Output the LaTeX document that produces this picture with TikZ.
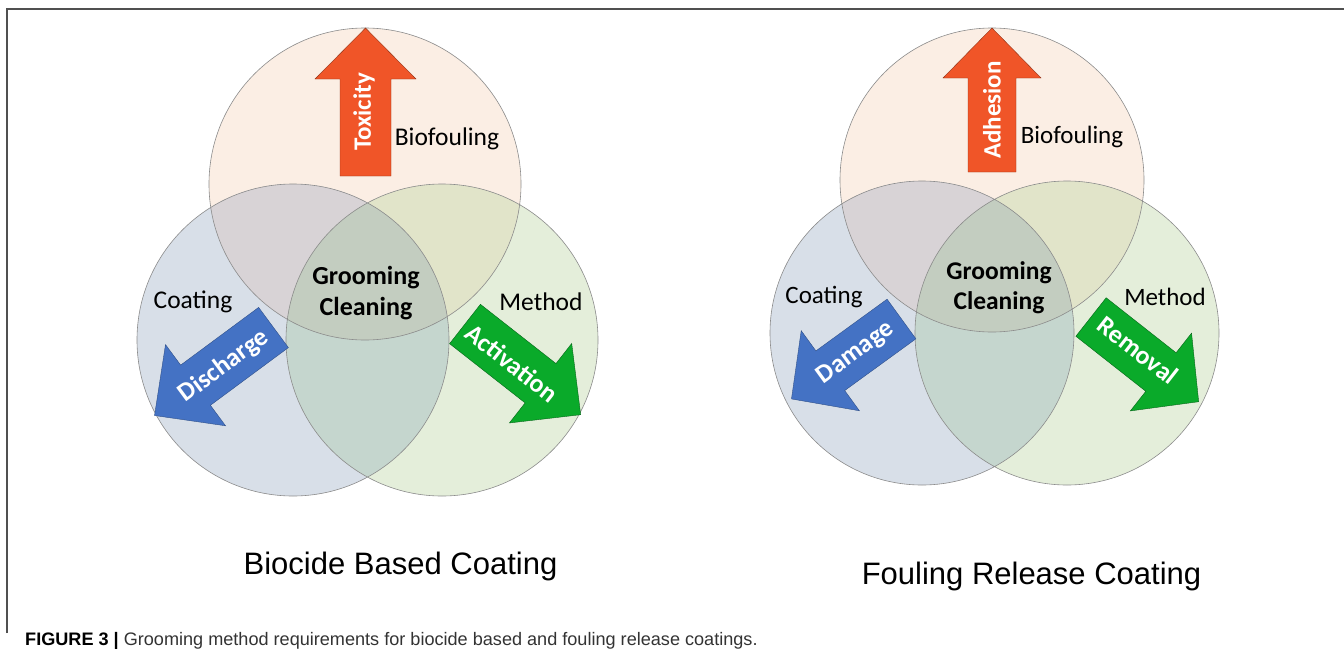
\documentclass[tikz,border=0pt]{standalone}
\usepackage{fontspec}
\setmainfont{Carlito}
\newfontfamily\arialfont{Liberation Sans}
\definecolor{topc}{HTML}{FBEEE4}
\definecolor{leftc}{HTML}{D8DFE8}
\definecolor{rightc}{HTML}{E4EEDA}
\definecolor{tlc}{HTML}{D8D3D6}
\definecolor{trc}{HTML}{E1E4C9}
\definecolor{lrc}{HTML}{C5D6CE}
\definecolor{cc}{HTML}{C3CDC0}
\definecolor{arrred}{HTML}{F05528}
\definecolor{arrblue}{HTML}{4472C4}
\definecolor{arrgreen}{HTML}{0AAA2A}
\definecolor{framec}{HTML}{505050}
\newcommand\VennSet[4]{%
  \fill[topc] (#1) circle[radius=#4pt];
  \fill[leftc] (#2) circle[radius=#4pt];
  \fill[rightc] (#3) circle[radius=#4pt];
  \begin{scope}
    \clip (#1) circle[radius=#4pt];
    \fill[tlc] (#2) circle[radius=#4pt];
    \fill[trc] (#3) circle[radius=#4pt];
  \end{scope}
  \begin{scope}
    \clip (#2) circle[radius=#4pt];
    \fill[lrc] (#3) circle[radius=#4pt];
    \clip (#3) circle[radius=#4pt];
    \fill[cc] (#1) circle[radius=#4pt];
  \end{scope}
  \draw[vennline] (#1) circle[radius=#4pt] (#2) circle[radius=#4pt] (#3) circle[radius=#4pt];
}
\tikzset{
  pics/fatarrow/.style n args={4}{code={
    \path[pic actions] (0,-#3) -- ({#1-#2},-#3) -- ({#1-#2},-#4) -- (#1,0)
      -- ({#1-#2},#4) -- ({#1-#2},#3) -- (0,#3) -- cycle;
  }},
  vennline/.style={draw=black!45, line width=0.6pt},
  lbl/.style={font=\fontsize{25.5}{30}\selectfont, inner sep=0pt},
  lblr/.style={font=\fontsize{25}{30}\selectfont, inner sep=0pt},
  ctr/.style={font=\bfseries\fontsize{26}{31}\selectfont, align=center, inner sep=0pt},
  ctrr/.style={font=\bfseries\fontsize{25.5}{30}\selectfont, align=center, inner sep=0pt},
  arrtxt/.style={font=\bfseries\fontsize{25}{30}\selectfont, text=white, inner sep=0pt},
  arrtxtd/.style={font=\bfseries\fontsize{26}{30}\selectfont, text=white, inner sep=0pt},
  redarr/.style={fill=arrred, draw=arrred!60!black, line width=0.4pt},
  bluearr/.style={fill=arrblue, draw=arrblue!70!black, line width=0.4pt},
  greenarr/.style={fill=arrgreen, draw=arrgreen!60!black, line width=0.4pt},
  titletxt/.style={font=\arialfont\fontsize{31}{37}\selectfont, inner sep=0pt, anchor=base},
}
\begin{document}
\begin{tikzpicture}[x=1pt, y=-1pt]
\useasboundingbox (0,0) rectangle (1344,656);
\fill[white] (0,0) rectangle (1344,656);
% frame
\draw[framec, line width=1.5pt] (7,633) -- (7,9) -- (1344,9);

% ---------- left Venn ----------
\coordinate (LT) at (365,184);
\coordinate (LL) at (293,340);
\coordinate (LR) at (442,340);
\VennSet{LT}{LL}{LR}{156}
\pic[redarr, rotate=90] at (365.5,176) {fatarrow={148}{51}{25.5}{50.5}};
\pic[bluearr, rotate=216.5] at (273.5,327.5) {fatarrow={148}{51}{25}{50.5}};
\pic[greenarr, rotate=-38.1] at (465,324) {fatarrow={147}{51}{25}{50.5}};
\node[arrtxt, rotate=90] (tox) at (364,112) {Toxicity};
\node[arrtxtd, rotate=36.5] (dis) at (224,366) {Discharge};
\node[arrtxtd, rotate=-38] (act) at (512,363) {Activation};
\node[lbl] (bio1) at (447,139) {Biofouling};
\node[lbl] (coat1) at (193,302) {Coating};
\node[lbl] (meth1) at (541,302) {Method};
\node[ctr] (gc1) at (366,293) {Grooming\\Cleaning};
\node[titletxt] (t1) at (400.5,574) {Biocide Based Coating};

% ---------- right Venn ----------
\coordinate (RT) at (992,180);
\coordinate (RL) at (922,333);
\coordinate (RR) at (1067,333);
\VennSet{RT}{RL}{RR}{152}
\pic[redarr, rotate=90] at (992,172) {fatarrow={144}{50}{24}{49}};
\pic[bluearr, rotate=216] at (901.5,319) {fatarrow={136}{48}{24.5}{49.5}};
\pic[greenarr, rotate=-38.2] at (1091,317) {fatarrow={137}{48}{24.5}{49.5}};
\node[arrtxt, rotate=90] (adh) at (992,110) {Adhesion};
\node[arrtxtd, rotate=36] (dam) at (856,353) {Damage};
\node[arrtxtd, rotate=-38] (rem) at (1138,350) {Removal};
\node[lblr] (bio2) at (1072,137) {Biofouling};
\node[lblr] (coat2) at (824,297) {Coating};
\node[lblr] (meth2) at (1165,297) {Method};
\node[ctrr] (gc2) at (999,288) {Grooming\\Cleaning};
\node[titletxt] (t2) at (1031.5,584) {Fouling Release Coating};

% caption
\node[anchor=base west, inner sep=0pt, font=\arialfont\fontsize{18.1}{22}\selectfont, text=black!80] (cap) at (25,645.5)
  {\textbf{\color{black}FIGURE 3 |} Grooming method requirements for biocide based and fouling release coatings.};
\end{tikzpicture}
\end{document}
